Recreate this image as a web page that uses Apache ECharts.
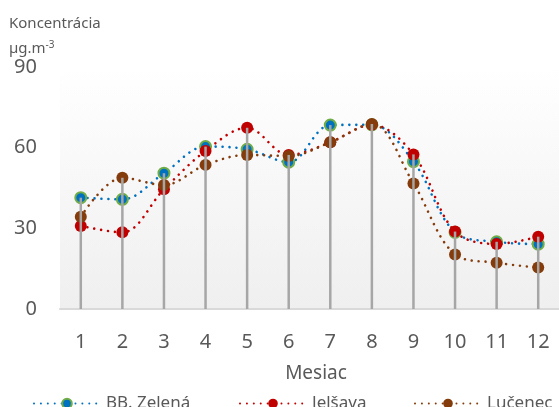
<!DOCTYPE html>
<html><head><meta charset="utf-8">
<script src="https://cdn.jsdelivr.net/npm/echarts@6/dist/echarts.min.js"></script>
<style>html,body{margin:0;padding:0;background:#fff}#c{width:559px;height:407px}</style>
</head><body><div id="c"></div>
<script>
const months = ['1','2','3','4','5','6','7','8','9','10','11','12'];
const bbZelena = [41.4, 40.8, 50.5, 60.4, 59.4, 54.6, 68.4, 68.5, 54.8, 28.5, 25.0, 24.1];
const jelsava  = [30.9, 28.5, 44.5, 58.8, 67.4, 57.3, 62.0, 68.5, 57.5, 28.8, 24.2, 26.9];
const lucenec  = [34.3, 48.8, 46.1, 53.6, 57.3, 56.9, 62.0, 68.8, 46.7, 20.3, 17.2, 15.4];
const yTicks = [0, 30, 60, 90];
const seriesNames = ['BB. Zelená', 'Jelšava', 'Lučenec'];

const dropLines = months.map((m, i) => Math.max(bbZelena[i], jelsava[i], lucenec[i]));
const font = 'Noto Sans';
const chart = echarts.init(document.getElementById('c'));
const lineSeries = (name, data, lineColor, fill, border, size) => ({
  name, type: 'line', data, smooth: 0.35, z: 2,
  symbol: 'circle', symbolSize: size,
  lineStyle: { color: lineColor, width: 2.6, type: [0.01, 6.9], cap: 'round' },
  itemStyle: { color: fill, borderColor: border, borderWidth: border === fill ? 0 : 2 }
});
const legendAt = (name, left) => ({
  data: [name], left, top: 390, itemWidth: 66, itemHeight: 12,
  textStyle: { color: '#595959', fontSize: 17, fontFamily: font, padding: [0, 0, 0, 1] }
});
chart.setOption({
  animation: false,
  textStyle: { fontFamily: font },
  grid: { left: 60, top: 67, width: 512, bottom: 98, show: true, borderWidth: 0,
    backgroundColor: { type: 'linear', x: 0, y: 0, x2: 0, y2: 1,
      colorStops: [{ offset: 0, color: '#ffffff' }, { offset: 1, color: '#efefef' }] } },
  xAxis: {
    type: 'category', data: months, boundaryGap: true,
    axisLine: { lineStyle: { color: '#d9d9d9', width: 2 } },
    axisTick: { show: false },
    axisLabel: { color: '#595959', fontSize: 20, margin: 23, fontFamily: font }
  },
  yAxis: {
    type: 'value', min: yTicks[0], max: yTicks[yTicks.length - 1], interval: 30,
    splitLine: { show: false }, axisLine: { show: false }, axisTick: { show: false },
    axisLabel: { color: '#595959', fontSize: 20, margin: 23, fontFamily: font }
  },
  legend: [legendAt(seriesNames[0], 28), legendAt(seriesNames[1], 234), legendAt(seriesNames[2], 409)],
  graphic: [
    { type: 'text', left: 9, top: 16, style: { text: 'Koncentrácia', fill: '#595959', font: '15px "Noto Sans"' } },
    { type: 'text', left: 9, top: 40, style: { rich: { a: { fill: '#595959', fontSize: 15, fontFamily: font }, s: { fill: '#595959', fontSize: 10, fontFamily: font, verticalAlign: 'top', padding: [0, 0, 7, 0] } }, text: '{a|µg.m}{s|-3}' } },
    { type: 'text', x: 316, y: 374, style: { text: 'Mesiac', fill: '#595959', font: '19px "Noto Sans"', align: 'center', verticalAlign: 'middle' } }
  ],
  series: [
    { name: 'drop', type: 'bar', data: dropLines, barWidth: 2.5, z: 3, silent: true,
      itemStyle: { color: '#a6a6a6' } },
    lineSeries(seriesNames[0], bbZelena, '#0070c0', '#0070c0', '#70ad47', 11),
    lineSeries(seriesNames[1], jelsava, '#c00000', '#c00000', '#c00000', 12),
    lineSeries(seriesNames[2], lucenec, '#843c0c', '#843c0c', '#843c0c', 12)
  ]
});
</script></body></html>
